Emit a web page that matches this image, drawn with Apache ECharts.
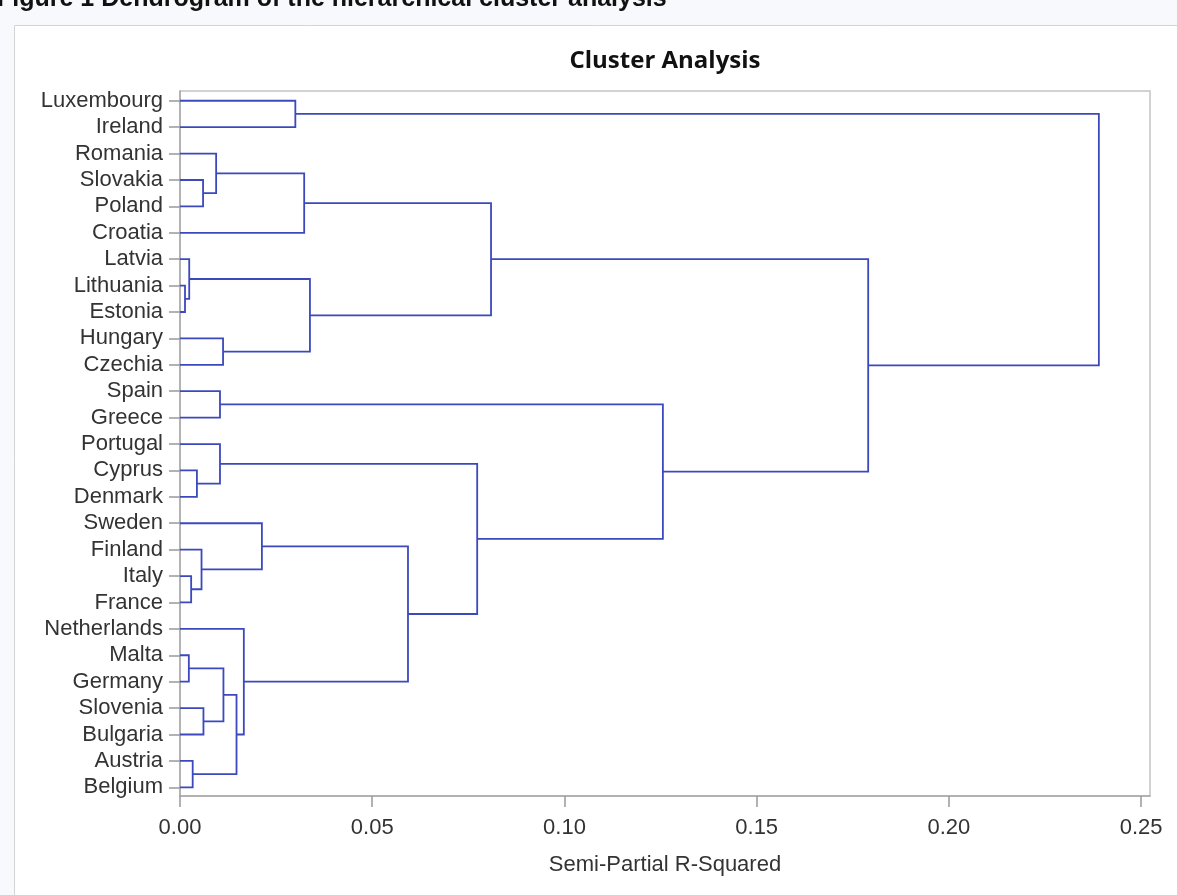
<!DOCTYPE html>
<html>
<head>
<meta charset="utf-8">
<script src="https://cdn.jsdelivr.net/npm/echarts@6/dist/echarts.min.js"></script>
<style>html,body{margin:0;padding:0;background:#f8f9fc;}#c{width:1177px;height:895px;}</style>
</head>
<body>
<div id="c"></div>
<script>
// Leaves, top to bottom
const countries = ['Luxembourg','Ireland','Romania','Slovakia','Poland','Croatia','Latvia','Lithuania','Estonia','Hungary','Czechia','Spain','Greece','Portugal','Cyprus','Denmark','Sweden','Finland','Italy','France','Netherlands','Malta','Germany','Slovenia','Bulgaria','Austria','Belgium'];
// Merges: node ids (leaves 0..26, merged nodes 27.. in order)
const mergeLeft  = [0, 3, 2, 29, 7, 6, 9, 32, 30, 11, 14, 13, 18, 17, 16, 21, 23, 42, 25, 44, 20, 41, 38, 36, 35, 27];
const mergeRight = [1, 4, 28, 5, 8, 31, 10, 33, 34, 12, 15, 37, 19, 39, 40, 22, 24, 43, 26, 45, 46, 47, 48, 49, 50, 51];
const mergeHeight = [0.030, 0.006, 0.0094, 0.0323, 0.0013, 0.0024, 0.0112, 0.0338, 0.0809, 0.0104, 0.0044, 0.0104, 0.0029, 0.0056, 0.0213, 0.0023, 0.0061, 0.0113, 0.0033, 0.0147, 0.0166, 0.0593, 0.0773, 0.1256, 0.179, 0.239];
const xTicks = [0, 0.05, 0.10, 0.15, 0.20, 0.25];

const nodeX = countries.map(() => 0);
const nodeY = countries.map((c, i) => i);
const segs = [];
for (let k = 0; k < mergeHeight.length; k++) {
  const a = mergeLeft[k], b = mergeRight[k], h = mergeHeight[k];
  segs.push({coords: [[nodeX[a], nodeY[a]], [h, nodeY[a]], [h, nodeY[b]], [nodeX[b], nodeY[b]]]});
  nodeX.push(h);
  nodeY.push((nodeY[a] + nodeY[b]) / 2);
}

const chart = echarts.init(document.getElementById('c'), null, {renderer: 'canvas'});
const FONT = 'Liberation Sans';
chart.setOption({
  backgroundColor: '#f8f9fc',
  animation: false,
  graphic: [
    {type: 'rect', z: -10, shape: {x: 14.5, y: 25.5, width: 1200, height: 900}, style: {fill: '#ffffff', stroke: '#d4d4d4', lineWidth: 1}},
    {type: 'text', x: -3, y: 12, style: {text: 'Figure 1 Dendrogram of the hierarchical cluster analysis', font: 'bold 25px "Liberation Sans"', fill: '#111', verticalAlign: 'bottom'}},
    {type: 'text', x: 665, y: 61, style: {text: 'Cluster Analysis', font: 'bold 24px "Open Sans"', fill: '#111', align: 'center', verticalAlign: 'middle'}}
  ],
  grid: {left: 180, right: 27, top: 91, bottom: 99, show: true, borderColor: '#c4c4c4', borderWidth: 1.5, backgroundColor: 'transparent'},
  xAxis: {
    type: 'value', min: 0, max: 0.2523,
    name: 'Semi-Partial R-Squared', nameLocation: 'middle', nameGap: 58,
    nameTextStyle: {fontFamily: FONT, fontSize: 22, color: '#333'},
    axisLine: {show: true, onZero: false, lineStyle: {color: '#a8a8a8', width: 1.5}},
    axisTick: {show: true, length: 11, lineStyle: {color: '#999', width: 1.5}, customValues: xTicks},
    axisLabel: {customValues: xTicks, fontFamily: FONT, fontSize: 22, color: '#333', margin: 21, formatter: v => v.toFixed(2)},
    splitLine: {show: false}
  },
  yAxis: {
    type: 'value', inverse: true, min: -0.37, max: 26.33,
    axisLine: {show: true, onZero: false, lineStyle: {color: '#a8a8a8', width: 1.5}},
    axisTick: {show: true, length: 11, lineStyle: {color: '#999', width: 1.5}, customValues: countries.map((c, i) => i)},
    axisLabel: {customValues: countries.map((c, i) => i), fontFamily: FONT, fontSize: 22, color: '#333', margin: 17, formatter: v => countries[Math.round(v)]},
    splitLine: {show: false}
  },
  series: [{
    type: 'lines', coordinateSystem: 'cartesian2d', polyline: true,
    lineStyle: {color: '#3b49bd', width: 1.8, opacity: 1},
    data: segs, silent: true
  }]
});
</script>
</body>
</html>
